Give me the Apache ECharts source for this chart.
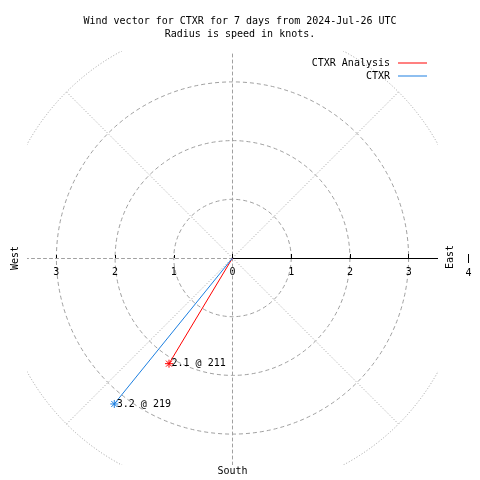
<!DOCTYPE html>
<html>
<head>
<meta charset="utf-8">
<script src="https://cdn.jsdelivr.net/npm/echarts@6/dist/echarts.min.js"></script>
<style>html,body{margin:0;padding:0;background:#fff}#c{width:480px;height:480px}</style>
</head>
<body>
<div id="c"></div>
<script>
// ---- data ----
const seriesNames = ['CTXR Analysis', 'CTXR'];
const speeds = [2.1, 3.2];          // knots
const directions = [211, 219];      // degrees (compass)
const titleLines = ['Wind vector for CTXR for 7 days from 2024-Jul-26 UTC', 'Radius is speed in knots.'];
const compassLabels = ['West', 'East', 'South'];
const outerTick = '4';

// ---- styles ----
const colors = ['#ff0000', '#1c7fe0'];
const FONT = 'DejaVu Sans Mono';
const GRAY = '#a0a0a0';
const cx = 232.5, cy = 258;
const unit = 58.7;
const sqL = 27, sqT = 51, sqW = 411, sqH = 414;

const chart = echarts.init(document.getElementById('c'), null, {renderer: 'canvas'});

const star = 'path://M4,0L4,8M0,4L8,4M1,1L7,7M7,1L1,7';

const series = seriesNames.map((name, i) => ({
  name: name,
  type: 'line',
  coordinateSystem: 'polar',
  polarIndex: 1,
  z: 3,
  silent: true,
  lineStyle: {color: colors[i], width: 1},
  itemStyle: {color: colors[i]},
  data: [
    {value: [0, directions[i]], symbol: 'none'},
    {
      value: [speeds[i], directions[i]],
      symbol: star,
      symbolSize: 8,
      itemStyle: {color: colors[i], borderColor: colors[i], borderWidth: 1},
      label: {
        show: true,
        position: 'right',
        distance: -2,
        color: '#000',
        fontFamily: FONT,
        fontSize: 10,
        formatter: speeds[i].toFixed(1) + ' @ ' + directions[i]
      }
    }
  ]
}));

const hiddenAxisParts = {axisLine: {show: false}, axisTick: {show: false}, axisLabel: {show: false}, splitLine: {show: false}};
const tickLabel = {color: '#000', fontFamily: FONT, fontSize: 10, margin: 9};

const option = {
  animation: false,
  backgroundColor: '#fff',
  title: {
    text: titleLines.join('\n'),
    left: 'center',
    top: 10,
    padding: [5, 21, 5, 5],
    textStyle: {fontFamily: FONT, fontSize: 10, fontWeight: 'normal', color: '#000', lineHeight: 13}
  },
  legend: seriesNames.map((name, i) => ({
    data: [name],
    right: 53,
    top: 58 + i * 13,
    padding: 0,
    align: 'right',
    icon: 'rect',
    itemWidth: 29,
    itemHeight: 1,
    selectedMode: false,
    textStyle: {fontFamily: FONT, fontSize: 10, color: '#000', padding: [0, 3, 0, 0]}
  })),
  grid: [
    {left: sqL, top: sqT, width: sqW, height: sqH},
    {left: cx, top: sqT, width: sqL + sqW - cx, height: cy - sqT},
    {left: sqL, top: sqT, width: cx - sqL, height: cy - sqT}
  ],
  xAxis: [
    Object.assign({gridIndex: 0, type: 'value', min: -3.5, max: 3.5}, hiddenAxisParts),
    {
      gridIndex: 1, type: 'value', min: 0, max: 3.5, interval: 1, position: 'bottom',
      axisLine: {onZero: false, lineStyle: {color: '#000', width: 1}},
      axisTick: {inside: true, length: 4, lineStyle: {color: '#000'}},
      axisLabel: Object.assign({showMaxLabel: false}, tickLabel),
      splitLine: {show: false}
    },
    {
      gridIndex: 2, type: 'value', min: 0, max: 3.5, interval: 1, inverse: true, position: 'bottom',
      axisLine: {onZero: false, lineStyle: {color: GRAY, width: 1, type: [3, 3]}},
      axisTick: {inside: true, length: 3, lineStyle: {color: '#000'}},
      axisLabel: Object.assign({showMinLabel: false, showMaxLabel: false}, tickLabel),
      splitLine: {show: false}
    }
  ],
  yAxis: [
    {
      gridIndex: 0, type: 'value', min: -3.5, max: 3.5,
      axisLine: {onZero: true, lineStyle: {color: GRAY, width: 1, type: [3, 3]}},
      axisTick: {show: false}, axisLabel: {show: false}, splitLine: {show: false}
    },
    Object.assign({gridIndex: 1, type: 'value', min: 0, max: 3.5}, hiddenAxisParts),
    Object.assign({gridIndex: 2, type: 'value', min: 0, max: 3.5}, hiddenAxisParts)
  ],
  polar: [
    {center: [cx, cy], radius: 3 * unit},
    {center: [cx, cy], radius: 4 * unit}
  ],
  radiusAxis: [
    {
      polarIndex: 0, type: 'value', min: 0, max: 3, interval: 1,
      axisLine: {show: false}, axisTick: {show: false}, axisLabel: {show: false},
      splitLine: {show: true, lineStyle: {color: GRAY, width: 1, type: [4, 3]}}
    },
    {
      polarIndex: 1, type: 'value', min: 0, max: 4, interval: 4,
      axisLine: {show: false}, axisTick: {show: false}, axisLabel: {show: false},
      splitLine: {show: true, lineStyle: {color: GRAY, width: 1, type: [1, 2]}}
    }
  ],
  angleAxis: [
    Object.assign({polarIndex: 0, type: 'value', min: 0, max: 360, interval: 90, startAngle: 90, clockwise: true}, hiddenAxisParts),
    {
      polarIndex: 1, type: 'value', min: 0, max: 360, interval: 45, startAngle: 90, clockwise: true,
      axisLine: {show: false}, axisTick: {show: false}, axisLabel: {show: false},
      splitLine: {show: true, lineStyle: {
        color: ['rgba(0,0,0,0)', GRAY, 'rgba(0,0,0,0)', GRAY, 'rgba(0,0,0,0)', GRAY, 'rgba(0,0,0,0)', GRAY],
        width: 1, type: [1, 2]
      }}
    }
  ],
  graphic: [
    // white masks clipping the outer ring to the square plot area
    {type: 'rect', z: 1, silent: true, shape: {x: 0, y: 0, width: 480, height: sqT}, style: {fill: '#fff'}},
    {type: 'rect', z: 1, silent: true, shape: {x: 0, y: sqT + sqH, width: 480, height: 480 - sqT - sqH}, style: {fill: '#fff'}},
    {type: 'rect', z: 1, silent: true, shape: {x: 0, y: 0, width: sqL, height: 480}, style: {fill: '#fff'}},
    {type: 'rect', z: 1, silent: true, shape: {x: sqL + sqW, y: 0, width: 480 - sqL - sqW, height: 480}, style: {fill: '#fff'}},
    {type: 'text', z: 10, x: 15, y: cy, rotation: Math.PI / 2,
      style: {text: compassLabels[0], font: '10px ' + FONT, fill: '#000', align: 'center', verticalAlign: 'middle'}},
    {type: 'text', z: 10, x: 450, y: 257, rotation: Math.PI / 2,
      style: {text: compassLabels[1], font: '10px ' + FONT, fill: '#000', align: 'center', verticalAlign: 'middle'}},
    {type: 'text', z: 10, x: cx, y: 471,
      style: {text: compassLabels[2], font: '10px ' + FONT, fill: '#000', align: 'center', verticalAlign: 'middle'}},
    {type: 'rect', z: 10, silent: true, shape: {x: 468, y: 254, width: 1, height: 9}, style: {fill: '#000'}},
    {type: 'text', z: 10, x: 468.5, y: 273,
      style: {text: outerTick, font: '10px ' + FONT, fill: '#000', align: 'center', verticalAlign: 'middle'}}
  ],
  series: series
};

chart.setOption(option);
</script>
</body>
</html>
